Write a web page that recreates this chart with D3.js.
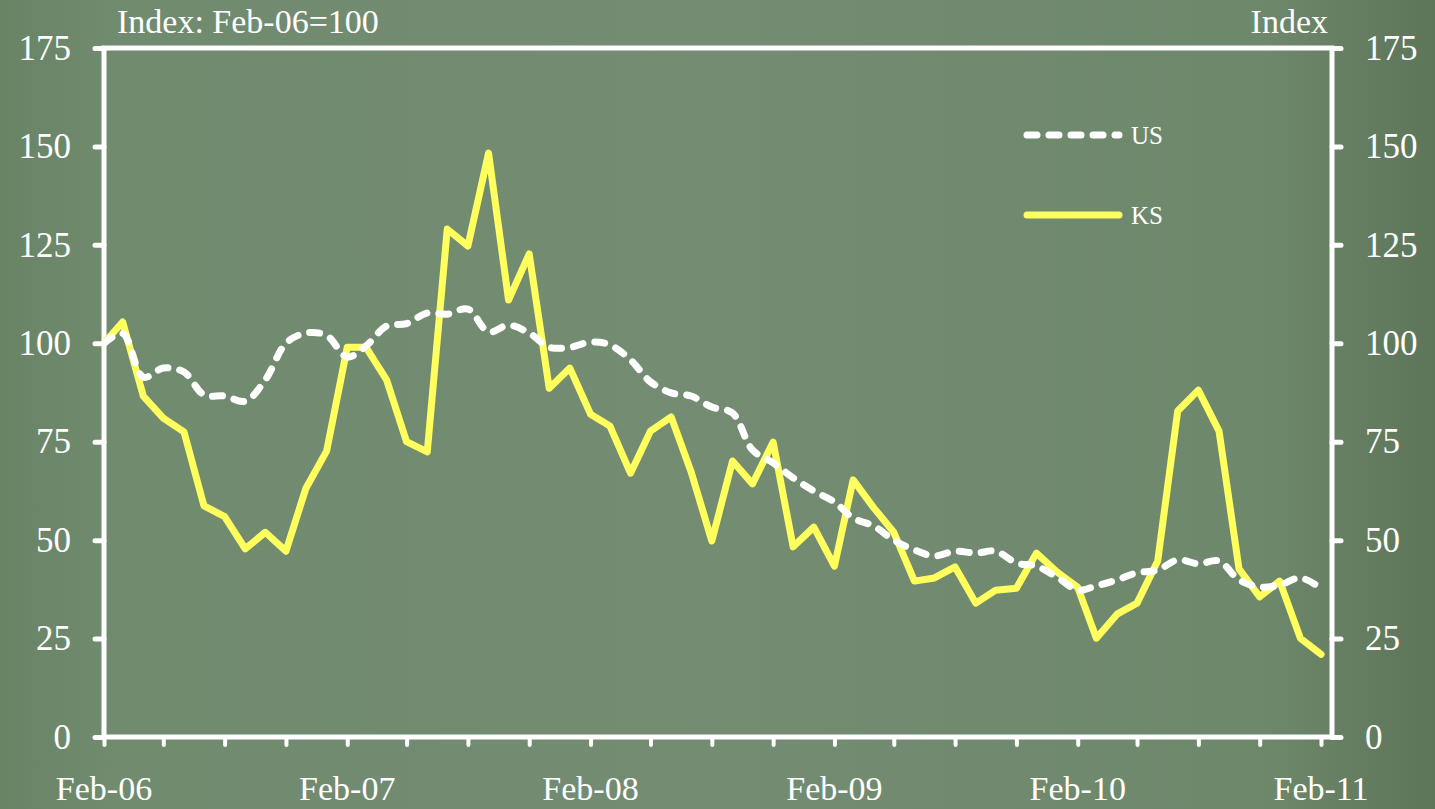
<!DOCTYPE html>
<html>
<head>
<meta charset="utf-8">
<script src="https://cdn.jsdelivr.net/npm/d3@7"></script>
<style>
  html, body { margin: 0; padding: 0; background: #728b70; }
  svg { display: block; }
  text { font-family: "Liberation Serif", "Times New Roman", serif; fill: #ffffff; }
</style>
</head>
<body>
<svg id="chart" width="1435" height="809"></svg>
<script>
// Monthly index values, Feb-2006 through Feb-2011 (Feb-06 = 100)
const usValues = [
  100, 102.5, 91.4, 93.7, 92.7, 86.9, 86.6, 85.3, 90.7, 100,
  102.6, 102, 96.5, 99.3, 104.4, 105, 107.7, 107.4, 108.7, 102.9,
  104.6, 102.6, 99, 99, 100.3, 99.6, 95.8, 90.2, 87.4, 86.6,
  83.8, 82.3, 72.9, 69.6, 65.8, 62.5, 59.7, 55.6, 53.6, 50,
  47.5, 46, 47.2, 46.7, 47.2, 44.2, 43.4, 40.6, 37.3, 38.4,
  39.9, 41.7, 42.4, 45, 44, 44.7, 39.9, 38.1, 38.6, 40.4, 37.8
];
const ksValues = [
  100, 105.4, 86.6, 81, 77.5, 58.7, 56, 47.8, 52, 47.2,
  63.2, 72.6, 99, 99, 90.7, 75, 72.4, 129, 124.7, 148.3,
  111, 122.7, 88.6, 93.7, 82, 79, 67, 77.7, 81.3, 67.3,
  49.8, 70.1, 64.3, 74.9, 48.3, 53.3, 43.4, 65.3, 58.2, 52,
  39.6, 40.4, 43.2, 34, 37.3, 37.8, 46.7, 41.9, 38, 25.1,
  31.2, 34, 44.7, 82.8, 88.1, 77.7, 42.7, 35.6, 39.6, 25.1, 21
];
const xTickLabels = ["Feb-06", "Feb-07", "Feb-08", "Feb-09", "Feb-10", "Feb-11"];
const yTicks = [0, 25, 50, 75, 100, 125, 150, 175];
const seriesNames = ["US", "KS"];

const svg = d3.select("#chart");
const W = 1435, H = 809;
const plot = { left: 104, right: 1332, top: 48, bottom: 737, lastX: 1321 };

// Background with slightly darker edges
const defs = svg.append("defs");
const bg = defs.append("linearGradient").attr("id", "bg").attr("x1", 0).attr("x2", 1).attr("y1", 0).attr("y2", 0);
bg.append("stop").attr("offset", "0%").attr("stop-color", "#698365");
bg.append("stop").attr("offset", "8%").attr("stop-color", "#718b6f");
bg.append("stop").attr("offset", "50%").attr("stop-color", "#738c72");
bg.append("stop").attr("offset", "88%").attr("stop-color", "#6e886c");
bg.append("stop").attr("offset", "100%").attr("stop-color", "#5d7558");
svg.append("rect").attr("width", W).attr("height", H).attr("fill", "url(#bg)");

const startDate = new Date(2006, 1, 1);
const months = d3.range(usValues.length).map(i => d3.timeMonth.offset(startDate, i));

const x = d3.scaleTime()
  .domain([months[0], months[months.length - 1]])
  .range([plot.left, plot.lastX]);
const y = d3.scaleLinear().domain([0, 175]).range([plot.bottom, plot.top]);

const white = "#ffffff";

// Plot frame
svg.append("rect")
  .attr("x", plot.left).attr("y", plot.top)
  .attr("width", plot.right - plot.left).attr("height", plot.bottom - plot.top)
  .attr("fill", "none").attr("stroke", white).attr("stroke-width", 5);

// Left and right value axes
const leftAxis = d3.axisLeft(y).tickValues(yTicks).tickSize(9).tickPadding(24).tickFormat(d3.format("d"));
const rightAxis = d3.axisRight(y).tickValues(yTicks).tickSize(9).tickPadding(24).tickFormat(d3.format("d"));
const styleAxis = g => {
  g.select(".domain").remove();
  g.selectAll(".tick line").attr("stroke", white).attr("stroke-width", 5).attr("stroke-linecap", "round");
  g.selectAll(".tick text").attr("font-size", 35).attr("font-family", "Liberation Serif").attr("fill", white);
};
svg.append("g").attr("transform", `translate(${plot.left},0)`).call(leftAxis).call(styleAxis);
svg.append("g").attr("transform", `translate(${plot.right},0)`).call(rightAxis).call(styleAxis);

// Bottom category axis: tick every quarter, label every February
const quarterTicks = months.filter((d, i) => i % 3 === 0);
const bottomAxis = d3.axisBottom(x).tickValues(quarterTicks).tickSize(8).tickFormat(() => "");
svg.append("g").attr("transform", `translate(0,${plot.bottom})`).call(bottomAxis).call(g => {
  g.select(".domain").remove();
  g.selectAll(".tick line").attr("stroke", white).attr("stroke-width", 4).attr("stroke-linecap", "round");
});
const febTicks = months.filter((d, i) => i % 12 === 0);
svg.append("g").selectAll("text")
  .data(febTicks)
  .join("text")
  .attr("x", d => x(d))
  .attr("y", 800)
  .attr("text-anchor", "middle")
  .attr("font-size", 34)
  .text((d, i) => xTickLabels[i]);

// Axis titles
svg.append("text").attr("x", 117).attr("y", 33).attr("font-size", 34).text("Index: Feb-06=100");
svg.append("text").attr("x", 1328).attr("y", 33).attr("font-size", 34).attr("text-anchor", "end").text("Index");

// Series lines
const usLine = d3.line().x((d, i) => x(months[i])).y(d => y(d)).curve(d3.curveCatmullRom.alpha(0.5));
const ksLine = d3.line().x((d, i) => x(months[i])).y(d => y(d));

svg.append("path")
  .datum(ksValues)
  .attr("d", ksLine)
  .attr("fill", "none")
  .attr("stroke", "#ffff5e")
  .attr("stroke-width", 7)
  .attr("stroke-linejoin", "round")
  .attr("stroke-linecap", "round");

svg.append("path")
  .datum(usValues)
  .attr("d", usLine)
  .attr("fill", "none")
  .attr("stroke", white)
  .attr("stroke-width", 7)
  .attr("stroke-dasharray", "10,12")
  .attr("stroke-linecap", "round");

// Legend
const legend = svg.append("g");
const legendItems = [
  { name: seriesNames[0], y: 135, stroke: white, dash: "10,12" },
  { name: seriesNames[1], y: 215, stroke: "#ffff5e", dash: null }
];
legendItems.forEach(item => {
  legend.append("line")
    .attr("x1", 1027).attr("x2", 1119)
    .attr("y1", item.y).attr("y2", item.y)
    .attr("stroke", item.stroke).attr("stroke-width", 7)
    .attr("stroke-linecap", "round")
    .attr("stroke-dasharray", item.dash);
  legend.append("text")
    .attr("x", 1131).attr("y", item.y + 9)
    .attr("font-size", 25)
    .text(item.name);
});
</script>
</body>
</html>
